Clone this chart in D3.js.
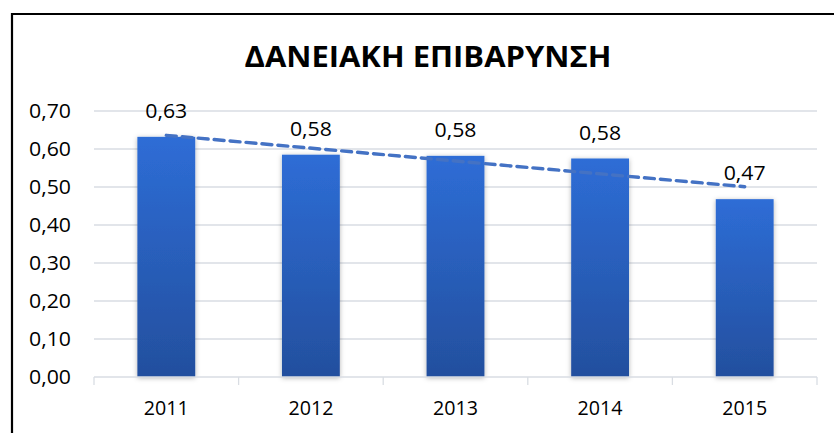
<!DOCTYPE html>
<html><head><meta charset="utf-8">
<script src="https://cdn.jsdelivr.net/npm/d3@7"></script>
<style>body{margin:0;background:#fff}svg{display:block}</style>
</head><body>
<svg id="c" width="834" height="433"></svg>
<script>
const categories = ["2011","2012","2013","2014","2015"];
const values = [0.632, 0.585, 0.582, 0.575, 0.468];
const labels = ["0,63","0,58","0,58","0,58","0,47"];
const yTicks = [0,0.1,0.2,0.3,0.4,0.5,0.6,0.7];
const title = "ΔΑΝΕΙΑΚΗ ΕΠΙΒΑΡΥΝΣΗ";

const svg = d3.select("#c");
const font = "'Open Sans', 'Noto Sans', sans-serif";
const m = {l:94, r:17, t:111, b:56};
const W = 834, H = 433;
const x = d3.scaleBand().domain(categories).range([m.l, W-m.r]).paddingInner(0.6).paddingOuter(0.3);
const xb = d3.scaleBand().domain(categories).range([m.l, W-m.r]);
const y = d3.scaleLinear().domain([0,0.7]).range([377,111]);

const defs = svg.append("defs");
const g = defs.append("linearGradient").attr("id","bg").attr("x1",0).attr("y1",0).attr("x2",0).attr("y2",1);
g.append("stop").attr("offset","0%").attr("stop-color","#2e6dd6");
g.append("stop").attr("offset","100%").attr("stop-color","#234f9e");
const f = defs.append("filter").attr("id","sh").attr("x","-30%").attr("y","-10%").attr("width","160%").attr("height","130%");
f.append("feDropShadow").attr("dx",0).attr("dy",1).attr("stdDeviation",2.5).attr("flood-color","#000").attr("flood-opacity",0.3);

// frame
svg.append("path").attr("d","M12,433 V14 H834").attr("fill","none").attr("stroke","#000").attr("stroke-width",2.2);

// gridlines
svg.append("g").selectAll("line").data(yTicks.slice(1)).join("line")
  .attr("x1",m.l).attr("x2",W-m.r).attr("y1",d=>y(d)).attr("y2",d=>y(d))
  .attr("stroke","#d9dde3").attr("stroke-width",1.3);

// y labels
svg.append("g").selectAll("text").data(yTicks).join("text")
  .attr("x",71).attr("y",d=>y(d)).attr("dy","0.35em").attr("text-anchor","end")
  .attr("font-family",font).attr("font-size",19.5).attr("fill","#000")
  .attr("textLength",42).attr("lengthAdjust","spacingAndGlyphs")
  .text(d=>d.toFixed(2).replace(".",","));

// bars
svg.append("g").selectAll("rect").data(values).join("rect")
  .attr("x",(d,i)=>x(categories[i])).attr("width",x.bandwidth())
  .attr("y",d=>y(d)).attr("height",d=>y(0)-y(d))
  .attr("fill","url(#bg)").attr("filter","url(#sh)");

// x axis line + ticks
svg.append("line").attr("x1",m.l).attr("x2",W-m.r).attr("y1",y(0)).attr("y2",y(0)).attr("stroke","#d9dde3").attr("stroke-width",1.3);
const bounds = categories.map(c=>xb(c)).concat([W-m.r]);
svg.append("g").selectAll("line").data(bounds).join("line")
  .attr("x1",d=>d).attr("x2",d=>d).attr("y1",y(0)).attr("y2",y(0)+8)
  .attr("stroke","#d9dde3").attr("stroke-width",1.3);

// x labels
svg.append("g").selectAll("text").data(categories).join("text")
  .attr("x",d=>xb(d)+xb.bandwidth()/2).attr("y",408).attr("dy","0.35em").attr("text-anchor","middle")
  .attr("font-family",font).attr("font-size",19.5).attr("fill","#000")
  .attr("textLength",45).attr("lengthAdjust","spacingAndGlyphs").text(d=>d);

// trendline (linear regression)
const n = values.length, idx = d3.range(n);
const mx = d3.mean(idx), my = d3.mean(values);
const slope = d3.sum(idx,i=>(i-mx)*(values[i]-my))/d3.sum(idx,i=>(i-mx)*(i-mx));
const icpt = my - slope*mx;
const cx = i => xb(categories[i]) + xb.bandwidth()/2;
svg.append("line")
  .attr("x1",cx(0)).attr("y1",y(icpt)).attr("x2",cx(n-1)).attr("y2",y(icpt+slope*(n-1)))
  .attr("stroke","#4472c4").attr("stroke-width",3.4).attr("stroke-dasharray","10,6").attr("stroke-linecap","round");

// value labels
svg.append("g").selectAll("text").data(values).join("text")
  .attr("x",(d,i)=>cx(i)).attr("y",d=>y(d)-26).attr("dy","0.35em").attr("text-anchor","middle")
  .attr("font-family",font).attr("font-size",20.5).attr("fill","#000")
  .attr("textLength",42).attr("lengthAdjust","spacingAndGlyphs").text((d,i)=>labels[i]);

// title
svg.append("text").attr("x",428).attr("y",57).attr("dy","0.35em").attr("text-anchor","middle")
  .attr("font-family",font).attr("font-weight","bold").attr("font-size",29).attr("fill","#000")
  .attr("textLength",367).attr("lengthAdjust","spacingAndGlyphs").text(title);
</script>
</body></html>
